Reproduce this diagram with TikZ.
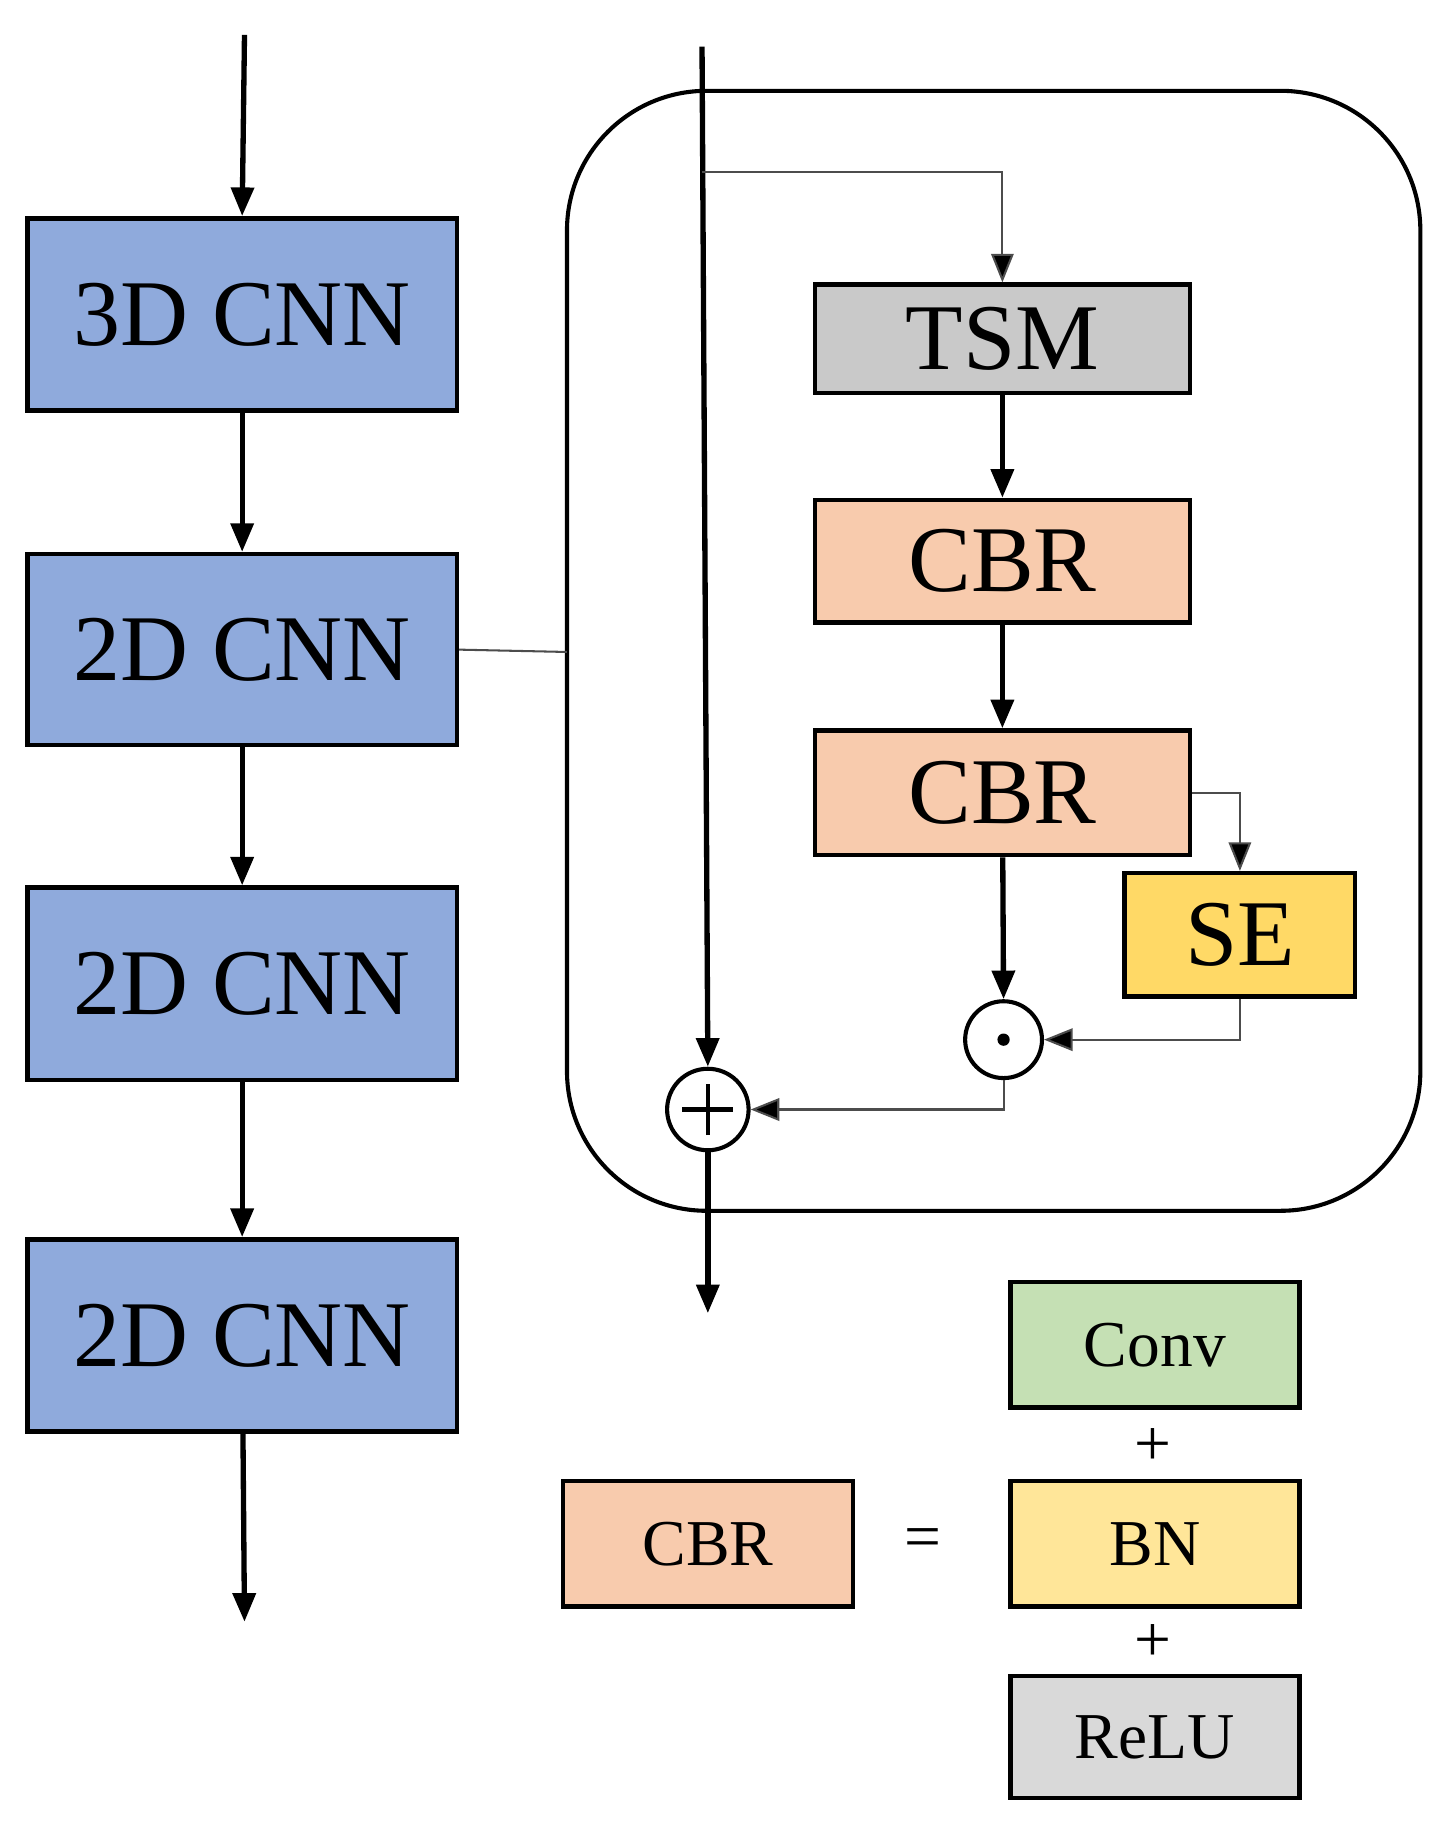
\documentclass[tikz,border=0pt]{standalone}
\usepackage{fontspec}
\setmainfont{Liberation Serif}
\usetikzlibrary{arrows.meta}
\definecolor{cblue}{HTML}{8FAADC}
\definecolor{cgray}{HTML}{C9C9C9}
\definecolor{cpeach}{HTML}{F8CBAD}
\definecolor{cse}{HTML}{FFD966}
\definecolor{cgreen}{HTML}{C5E0B4}
\definecolor{cbn}{HTML}{FFE699}
\definecolor{crelu}{HTML}{D9D9D9}
\begin{document}
\begin{tikzpicture}[x=0.02cm,y=-0.02cm,
 box/.style={draw=black,line width=2.2pt,inner sep=0pt},
 big/.style={font=\fontsize{46}{50}\selectfont},
 small/.style={font=\fontsize{32}{36}\selectfont},
 thick arr/.style={line width=2.6pt,-{Triangle[length=14pt,width=11pt]}},
 thin arr/.style={line width=1pt,draw=black!70,-{Triangle[length=14pt,width=11pt,fill=black]}},
 circ/.style={circle,draw=black,line width=2pt,fill=white,inner sep=0pt}]
\useasboundingbox (0,0) rectangle (1240,1565);
% left column
\node[box,fill=cblue,minimum width=369*0.02cm,minimum height=165*0.02cm,big] (c3) at (208,270) {3D CNN};
\node[box,fill=cblue,minimum width=369*0.02cm,minimum height=164*0.02cm,big] (c2a) at (208,558) {2D CNN};
\node[box,fill=cblue,minimum width=369*0.02cm,minimum height=165*0.02cm,big] (c2b) at (208,845) {2D CNN};
\node[box,fill=cblue,minimum width=369*0.02cm,minimum height=165*0.02cm,big] (c2c) at (208,1147) {2D CNN};
\coordinate (in) at (210,30);
\coordinate (out) at (210,1393);
\draw[thick arr] (in) -- (c3.north);
\draw[thick arr] (c3) -- (c2a);
\draw[thick arr] (c2a) -- (c2b);
\draw[thick arr] (c2b) -- (c2c);
\draw[thick arr] (c2c) -- (out);
% big block
\draw[line width=2pt,rounded corners=120*0.02cm] (487,78) rectangle (1220,1040);
\coordinate (bl) at (487,560);
\draw[line width=1pt,draw=black!70] (c2a.east) -- (bl);
\node[box,fill=cgray,minimum width=322*0.02cm,minimum height=93*0.02cm,big] (tsm) at (861,291) {TSM};
\node[box,fill=cpeach,minimum width=322*0.02cm,minimum height=105*0.02cm,big] (cbr1) at (861,482) {CBR};
\node[box,fill=cpeach,minimum width=322*0.02cm,minimum height=107*0.02cm,big] (cbr2) at (861,681) {CBR};
\node[box,fill=cse,minimum width=198*0.02cm,minimum height=106*0.02cm,big] (se) at (1065,803) {SE};
\node[circ,minimum size=66*0.02cm] (dot) at (862,893) {};
\fill (dot) circle (3pt);
\node[circ,minimum size=70*0.02cm] (plus) at (608,953) {};
\draw[line width=2pt] ([xshift=-22*0.02cm]plus.center) -- ([xshift=22*0.02cm]plus.center);
\draw[line width=2pt] ([yshift=-22*0.02cm]plus.center) -- ([yshift=22*0.02cm]plus.center);
\coordinate (top) at (603,40);
\coordinate (br) at (603,148);
\coordinate (bout) at (608,1128);
\draw[thick arr] (top) -- (plus.north);
\draw[thin arr] (br) -| (tsm.north);
\draw[thick arr] (tsm) -- (cbr1);
\draw[thick arr] (cbr1) -- (cbr2);
\draw[thick arr] (cbr2) -- (dot.north);
\draw[thin arr] (cbr2.east) -| (se.north);
\draw[thin arr] (se.south) |- (dot.east);
\draw[thin arr] (dot.south) |- (plus.east);
\draw[thick arr] (plus.south) -- (bout);
% legend
\node[box,fill=cpeach,minimum width=249*0.02cm,minimum height=108*0.02cm,small] (lcbr) at (608,1326) {CBR};
\node[small] (eq) at (793,1326) {=};
\node[box,fill=cgreen,minimum width=248*0.02cm,minimum height=108*0.02cm,small] (conv) at (992,1155) {Conv};
\node[small] (p1) at (990,1243) {+};
\node[box,fill=cbn,minimum width=248*0.02cm,minimum height=108*0.02cm,small] (bn) at (992,1326) {BN};
\node[small] (p2) at (990,1411) {+};
\node[box,fill=crelu,minimum width=248*0.02cm,minimum height=105*0.02cm,small] (relu) at (992,1492) {ReLU};
\end{tikzpicture}
\end{document}
